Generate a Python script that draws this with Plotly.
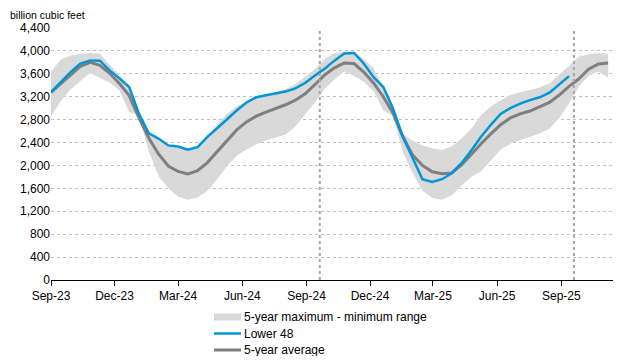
import plotly.graph_objects as go
import pandas as pd

# biweekly dates (Fridays) from 2023-09-01
dates = list(pd.date_range("2023-09-01", periods=58, freq="14D").strftime("%Y-%m-%d"))

lower48 = [3280, 3450, 3630, 3780, 3834, 3830, 3660, 3520, 3370, 2900,
           2560, 2470, 2350, 2330, 2275, 2320, 2500, 2650, 2810, 2960,
           3100, 3190, 3225, 3260, 3290, 3345, 3440, 3570, 3690, 3830,
           3955, 3965, 3780, 3540, 3370, 2990, 2500, 2130, 1760, 1710,
           1760, 1865, 2040, 2260, 2500, 2710, 2900, 3000, 3080, 3140,
           3190, 3270, 3410, 3560]

avg5 = [3275, 3430, 3590, 3730, 3800, 3750, 3610, 3430, 3220, 2830,
        2480, 2200, 1990, 1895, 1850, 1910, 2050, 2240, 2440, 2620,
        2760, 2860, 2930, 2990, 3060, 3140, 3250, 3410, 3580, 3705,
        3790, 3780, 3630, 3440, 3200, 2910, 2500, 2180, 2000, 1890,
        1855, 1870, 2010, 2190, 2380, 2550, 2710, 2830, 2900, 2950,
        3020, 3100, 3230, 3380, 3510, 3680, 3770, 3790]

range_max = [3640, 3850, 3920, 3950, 3964, 3950, 3760, 3590, 3350, 2880,
             2600, 2450, 2360, 2330, 2300, 2330, 2500, 2720, 2900, 3030,
             3120, 3200, 3240, 3290, 3330, 3420, 3550, 3680, 3860, 3960,
             3990, 3990, 3860, 3700, 3350, 3020, 2560, 2430, 2350, 2300,
             2270, 2330, 2470, 2640, 2880, 3030, 3140, 3230, 3280, 3320,
             3360, 3430, 3580, 3740, 3900, 3940, 3964, 3950]

range_min = [2860, 3120, 3330, 3470, 3614, 3526, 3450, 3310, 2930, 2880,
             2250, 1810, 1600, 1460, 1400, 1440, 1560, 1760, 1980, 2170,
             2280, 2370, 2440, 2490, 2540, 2680, 2880, 3100, 3340, 3500,
             3640, 3560, 3460, 3300, 2960, 2860, 2230, 1870, 1560, 1430,
             1400, 1480, 1650, 1800, 1900, 2080, 2280, 2380, 2440, 2500,
             2560, 2640, 2830, 3080, 3380, 3560, 3640, 3530]

tick_dates = ["2023-09-01", "2023-12-01", "2024-03-01", "2024-06-01", "2024-09-01",
              "2024-12-01", "2025-03-01", "2025-06-01", "2025-09-01"]
tick_labels = ["Sep-23", "Dec-23", "Mar-24", "Jun-24", "Sep-24",
               "Dec-24", "Mar-25", "Jun-25", "Sep-25"]
y_ticks = [0, 400, 800, 1200, 1600, 2000, 2400, 2800, 3200, 3600, 4000, 4400]
marker_dates = ["2024-09-20", "2025-09-19"]
legend_labels = ["5-year maximum - minimum range", "Lower 48", "5-year average"]

font = "Liberation Sans, Arial, sans-serif"
BAND = "#d9d9d9"
BLUE = "#0096d6"
GRAY = "#7f7f7f"

# page has an 8px body margin; compensate so the plot area lands at page x 51..613, y 28..280
OFF = 8
W, H = 623 - 2 * OFF, 364 - 2 * OFF
L, T = 51 - OFF, 28 - OFF
PW, PH = 562, 252
R = W - L - PW
B = H - T - PH

def px(x):  # page pixel x -> paper
    return (x - OFF - L) / PW

def py(y):  # page pixel y -> paper
    return (T + PH - (y - OFF)) / PH

fig = go.Figure()
fig.add_trace(go.Scatter(x=dates, y=range_min, mode="lines", line=dict(width=0, color=BAND),
                         showlegend=False, hoverinfo="skip"))
fig.add_trace(go.Scatter(x=dates, y=range_max, mode="lines", line=dict(width=0, color=BAND),
                         fill="tonexty", fillcolor=BAND, name=legend_labels[0], showlegend=False))
fig.add_trace(go.Scatter(x=dates, y=avg5, mode="lines", line=dict(width=3, color=GRAY),
                         name=legend_labels[2], showlegend=False))
fig.add_trace(go.Scatter(x=dates[:len(lower48)], y=lower48, mode="lines",
                         line=dict(width=2.5, color=BLUE),
                         name=legend_labels[1], showlegend=False))

shapes = []
for d in marker_dates:
    shapes.append(dict(type="line", xref="x", yref="paper", x0=d, x1=d, y0=0, y1=1,
                       line=dict(color="#a6a6a6", width=2, dash="dot"), layer="above"))

# manual legend (page pixel positions)
sx0, sx1, tx = 214, 241, 242
rows = [317, 333.5, 350]
shapes.append(dict(type="rect", xref="paper", yref="paper",
                   x0=px(sx0), x1=px(sx1), y0=py(rows[0] + 3.5), y1=py(rows[0] - 3.5),
                   fillcolor=BAND, line=dict(width=0)))
shapes.append(dict(type="line", xref="paper", yref="paper",
                   x0=px(sx0), x1=px(sx1), y0=py(rows[1]), y1=py(rows[1]),
                   line=dict(color=BLUE, width=2.5)))
shapes.append(dict(type="line", xref="paper", yref="paper",
                   x0=px(sx0), x1=px(sx1), y0=py(rows[2]), y1=py(rows[2]),
                   line=dict(color=GRAY, width=3)))

annotations = [dict(text="billion cubic feet", xref="paper", yref="paper",
                    x=px(9), y=py(8), xanchor="left", yanchor="top", borderpad=0,
                    showarrow=False, font=dict(size=10.5, family=font, color="black"))]
for lab, r in zip(legend_labels, rows):
    annotations.append(dict(text=lab, xref="paper", yref="paper", x=px(tx), y=py(r),
                            xanchor="left", yanchor="middle", showarrow=False,
                            font=dict(size=12, family=font, color="black")))

fig.update_layout(
    width=W, height=H,
    margin=dict(l=L, r=R, t=T, b=B, pad=0, autoexpand=False),
    paper_bgcolor="white", plot_bgcolor="white",
    font=dict(family=font, size=12, color="#000000"),
    showlegend=False,
    shapes=shapes, annotations=annotations,
)
fig.update_xaxes(
    range=["2023-09-01", "2025-11-14"],
    tickvals=tick_dates, ticktext=tick_labels,
    showgrid=False, showline=True, linecolor="black", linewidth=1,
    ticks="outside", ticklen=5, tickcolor="black", tickwidth=1,
    tickfont=dict(size=12), zeroline=False,
)
fig.update_yaxes(
    range=[0, 4400], tickvals=y_ticks, tickformat=",d",
    showgrid=True, gridcolor="#c0c0c0", griddash="dot", gridwidth=1,
    showline=False, zeroline=False, ticks="", tickfont=dict(size=12),
)

fig.write_html("out.html")
